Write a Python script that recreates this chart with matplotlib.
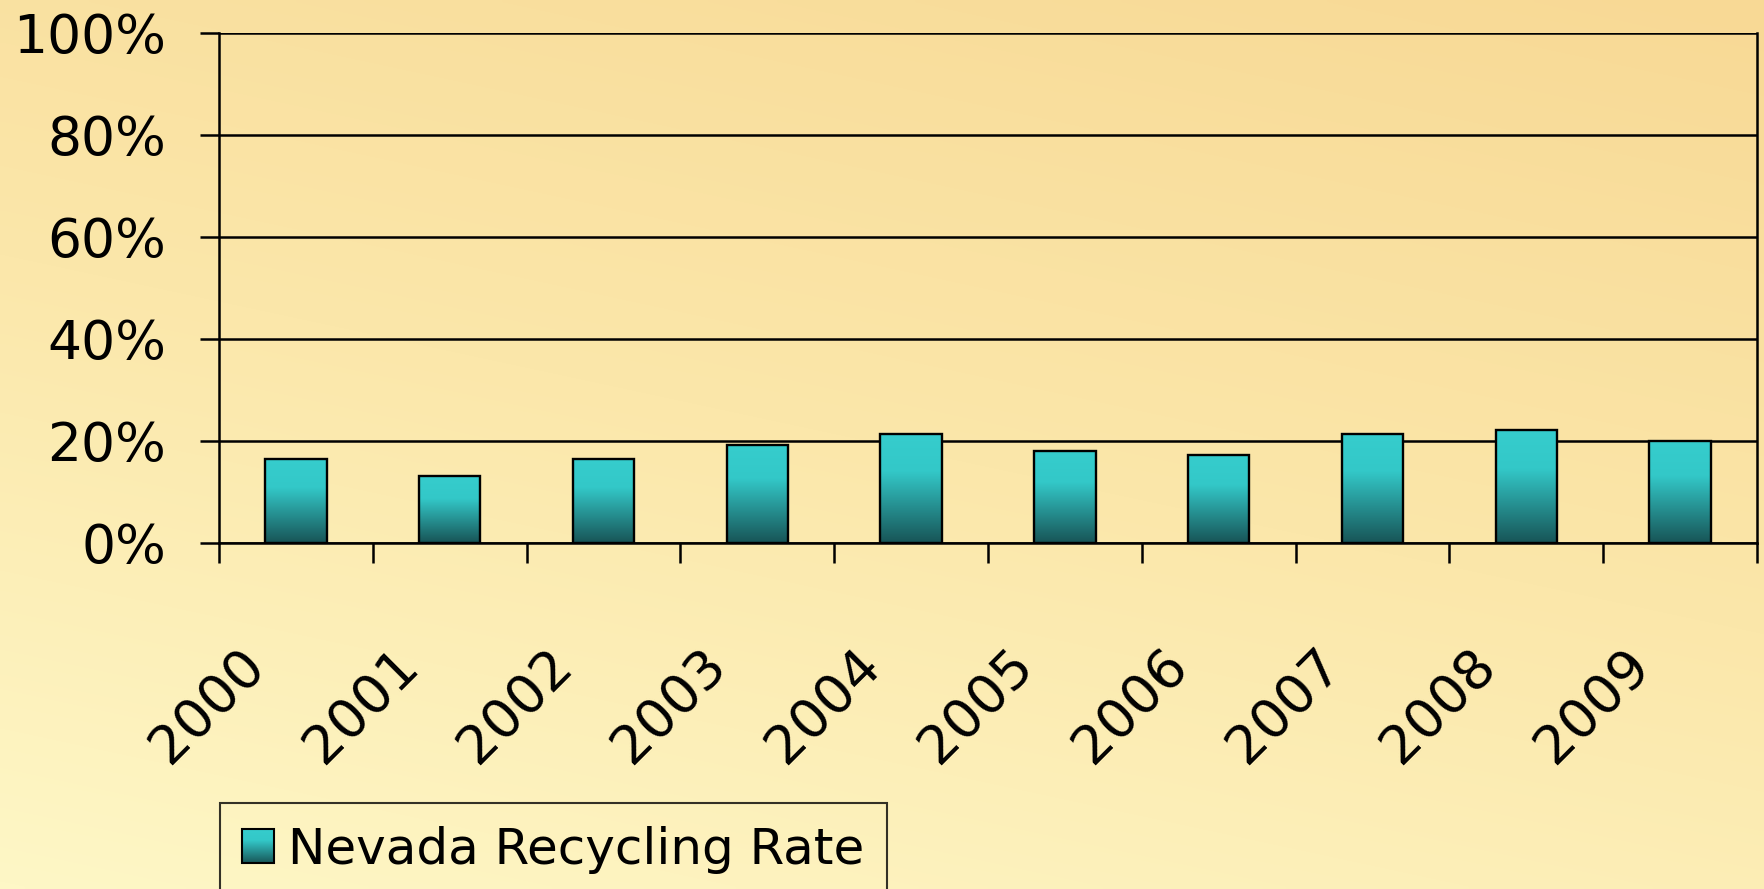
import numpy as np
import matplotlib
matplotlib.use('Agg')
import matplotlib.pyplot as plt
from matplotlib.colors import LinearSegmentedColormap
from matplotlib.patches import Rectangle, Patch
from matplotlib.legend_handler import HandlerBase
from matplotlib.image import BboxImage
from matplotlib.transforms import Bbox, TransformedBbox, ScaledTranslation

# data
years = ['2000', '2001', '2002', '2003', '2004', '2005', '2006', '2007', '2008', '2009']
rates = [16.4, 13.1, 16.4, 19.2, 21.2, 18.0, 17.1, 21.2, 22.1, 20.0]
y_ticks = [0, 20, 40, 60, 80, 100]
series_name = 'Nevada Recycling Rate'

W, H, DPI = 1765, 889, 100
plt.rcParams['font.family'] = ['DejaVu Sans']

fig = plt.figure(figsize=(W / DPI, H / DPI), dpi=DPI)

# background: warm yellow gradient
bg = fig.add_axes([0, 0, 1, 1], zorder=-10)
bg.axis('off')
yy, xx = np.mgrid[0:1:200j, 0:1:400j]
t = 0.7 * yy + 0.3 * (1 - xx)
bg_cmap = LinearSegmentedColormap.from_list('bg', ['#F8D995', '#FBE7AA', '#FEF7C6'])
bg.imshow(t, cmap=bg_cmap, aspect='auto', extent=[0, 1, 0, 1], interpolation='bilinear')

# bar colours: cyan top, dark teal bottom
bar_cmap = LinearSegmentedColormap.from_list('bar', [(0, '#185658'), (0.65, '#33C8C8'), (1, '#36CDCD')])
grad = np.linspace(0, 1, 256).reshape(-1, 1)

ax = fig.add_axes([219 / W, 1 - 542.5 / H, (1757 - 219) / W, (542.5 - 32.6) / H])
ax.set_facecolor('none')

width = 0.4
x = np.arange(len(years))
bars = ax.bar(x, rates, width=width, facecolor='none', edgecolor='black', linewidth=1.7, zorder=3)
for b in bars:
    x0, y0 = b.get_x(), b.get_y()
    ax.imshow(grad, cmap=bar_cmap, origin='lower', aspect='auto',
              extent=[x0, x0 + b.get_width(), y0, y0 + b.get_height()], zorder=2,
              interpolation='bilinear')

ax.set_xlim(-0.5, len(years) - 0.5)
ax.set_ylim(0, 100)

# grid & spines
ax.set_yticks(y_ticks)
ax.set_yticklabels([f'{v}%' for v in y_ticks])
ax.yaxis.grid(True, color='black', linewidth=1.8, zorder=1)
ax.set_axisbelow(True)
ax.spines['top'].set_visible(False)
for s in ['left', 'right', 'bottom']:
    ax.spines[s].set_linewidth(1.8)
ax.tick_params(axis='y', direction='out', length=14, width=1.8, pad=24, labelsize=38.5)

# category boundaries as outward minor ticks, labels on majors
ax.set_xticks(np.arange(-0.5, len(years), 1), minor=True)
ax.set_xticks(x)
ax.set_xticklabels(years, rotation=45, ha='center', va='center', fontsize=39)
ax.tick_params(axis='x', which='minor', direction='out', length=14.4, width=1.8)
ax.tick_params(axis='x', which='major', length=0, pad=118)
shift = ScaledTranslation(-88 / DPI, 0, fig.dpi_scale_trans)
for lab in ax.get_xticklabels():
    lab.set_transform(lab.get_transform() + shift)


class GradientHandler(HandlerBase):
    def create_artists(self, legend, orig_handle, xdescent, ydescent, width, height, fontsize, trans):
        bb = TransformedBbox(Bbox.from_bounds(-xdescent, -ydescent, width, height), trans)
        img = BboxImage(bb, cmap=bar_cmap, interpolation='bilinear', origin='lower')
        img.set_data(grad)
        frame = Rectangle((-xdescent, -ydescent), width, height, facecolor='none',
                          edgecolor='black', linewidth=1.5, transform=trans)
        return [img, frame]


handle = Patch(facecolor='#2A9A9A')
leg = fig.legend([handle], [series_name], loc='upper left',
                 bbox_to_anchor=(220 / W, 1 - 803 / H), bbox_transform=fig.transFigure,
                 borderaxespad=0, borderpad=0.45, handlelength=0.62, handleheight=0.67,
                 handletextpad=0.3, fancybox=False, fontsize=36,
                 handler_map={Patch: GradientHandler()})
leg.get_frame().set_edgecolor('black')
leg.get_frame().set_facecolor('none')
leg.get_frame().set_linewidth(1.5)

fig.savefig('out.png', dpi=DPI)
